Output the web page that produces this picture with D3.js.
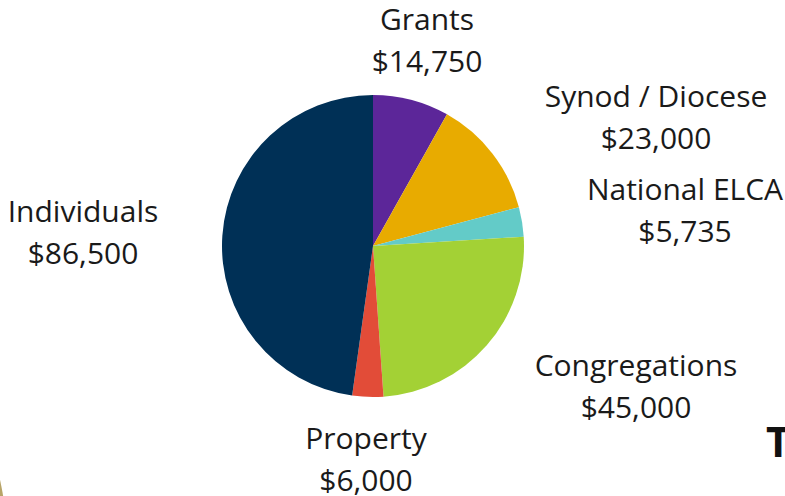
<!DOCTYPE html>
<html>
<head>
<meta charset="utf-8">
<script src="https://cdn.jsdelivr.net/npm/d3@7"></script>
<style>
  body { margin: 0; background: #fff; }
  text { font-family: "Open Sans", sans-serif; }
</style>
</head>
<body>
<div id="chart"></div>
<script>
var categories = ["Grants", "Synod / Diocese", "National ELCA", "Congregations", "Property", "Individuals"];
var amounts = [14750, 23000, 5735, 45000, 6000, 86500];
var amountLabels = ["$14,750", "$23,000", "$5,735", "$45,000", "$6,000", "$86,500"];
var colors = ["#5c2699", "#e8ab00", "#63cbc8", "#a3d135", "#e24c38", "#003056"];

// where each label sits (centre x, first baseline)
var labelPos = [[427, 30], [656, 107], [685, 200], [636, 376], [366, 449], [83, 222]];

var width = 785,
    height = 496,
    cx = 373,
    cy = 246,
    radius = 151;

var svg = d3.select("#chart").append("svg")
    .attr("width", width)
    .attr("height", height);

// gold circle peeking in from the lower left
svg.append("circle")
    .attr("cx", -400)
    .attr("cy", 565)
    .attr("r", 409)
    .style("fill", "#b8a468");

var pie = d3.pie().sort(null).value(function(d) { return d; });
var arc = d3.arc().innerRadius(0).outerRadius(radius);

var g = svg.append("g").attr("transform", "translate(" + cx + "," + cy + ")");

g.selectAll("path")
  .data(pie(amounts))
  .enter().append("path")
    .attr("d", arc)
    .style("fill", function(d, i) { return colors[i]; });

var labels = svg.selectAll(".label")
  .data(categories)
  .enter().append("text")
    .attr("class", "label")
    .attr("text-anchor", "middle")
    .style("font-size", "30px")
    .style("fill", "#1a1a1a");

labels.append("tspan")
    .attr("x", function(d, i) { return labelPos[i][0]; })
    .attr("y", function(d, i) { return labelPos[i][1]; })
    .text(function(d) { return d; });

labels.append("tspan")
    .attr("x", function(d, i) { return labelPos[i][0]; })
    .attr("y", function(d, i) { return labelPos[i][1] + 42; })
    .text(function(d, i) { return amountLabels[i]; });

// cut-off heading at the right edge
svg.append("text")
    .attr("x", 766)
    .attr("y", 457)
    .style("font-size", "42px")
    .style("font-weight", "bold")
    .style("fill", "#111")
    .text("T");
</script>
</body>
</html>
